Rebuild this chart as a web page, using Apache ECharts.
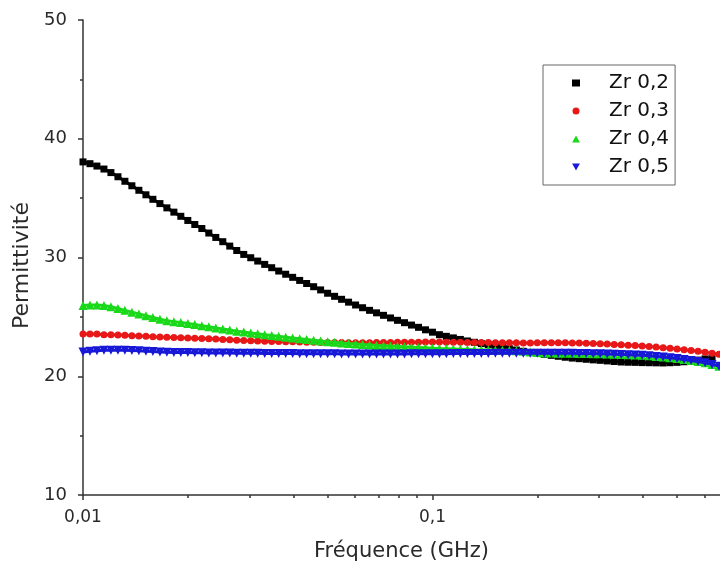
<!DOCTYPE html>
<html>
<head>
<meta charset="utf-8">
<script src="https://cdn.jsdelivr.net/npm/echarts@6/dist/echarts.min.js"></script>
<style>
html,body{margin:0;padding:0;background:#fff;}
#c{width:720px;height:569px;}
</style>
</head>
<body>
<div id="c"></div>
<script>
// Frequency (GHz)
const freq = [
0.01, 0.01047, 0.01096, 0.01148, 0.01202, 0.01259, 0.01318, 0.0138, 0.01445, 0.01514,
0.01585, 0.0166, 0.01738, 0.0182, 0.01905, 0.01995, 0.02089, 0.02188, 0.02291, 0.02399,
0.02512, 0.0263, 0.02754, 0.02884, 0.0302, 0.03162, 0.03311, 0.03467, 0.03631, 0.03802,
0.03981, 0.04169, 0.04365, 0.04571, 0.04786, 0.05012, 0.05248, 0.05495, 0.05754, 0.06026,
0.0631, 0.06607, 0.06918, 0.07244, 0.07586, 0.07943, 0.08318, 0.0871, 0.0912, 0.0955,
0.1, 0.1047, 0.1096, 0.1148, 0.1202, 0.1259, 0.1318, 0.138, 0.1445, 0.1514,
0.1585, 0.166, 0.1738, 0.182, 0.1905, 0.1995, 0.2089, 0.2188, 0.2291, 0.2399,
0.2512, 0.263, 0.2754, 0.2884, 0.302, 0.3162, 0.3311, 0.3467, 0.3631, 0.3802,
0.3981, 0.4169, 0.4365, 0.4571, 0.4786, 0.5012, 0.5248, 0.5495, 0.5754, 0.6026,
0.631, 0.6607
];
// Permittivité values
const zr02 = [
38.05, 37.9, 37.7, 37.45, 37.15, 36.8, 36.42, 36.04, 35.66, 35.28,
34.9, 34.54, 34.18, 33.82, 33.47, 33.12, 32.78, 32.44, 32.06, 31.69,
31.33, 30.96, 30.59, 30.26, 29.98, 29.7, 29.42, 29.14, 28.86, 28.59,
28.33, 28.07, 27.81, 27.54, 27.27, 26.99, 26.73, 26.48, 26.24, 26.0,
25.77, 25.55, 25.34, 25.13, 24.91, 24.71, 24.51, 24.31, 24.12, 23.91,
23.71, 23.5, 23.36, 23.23, 23.1, 22.97, 22.86, 22.75, 22.65, 22.54,
22.43, 22.32, 22.21, 22.1, 22.0, 21.92, 21.84, 21.76, 21.68, 21.6,
21.53, 21.48, 21.43, 21.38, 21.34, 21.29, 21.24, 21.2, 21.18, 21.17,
21.15, 21.14, 21.13, 21.12, 21.14, 21.17, 21.22, 21.28, 21.36, 21.46,
21.54, null
];
const zr03 = [
23.55, 23.55, 23.55, 23.5, 23.5, 23.48, 23.45, 23.42, 23.4, 23.37,
23.33, 23.3, 23.28, 23.26, 23.24, 23.22, 23.2, 23.18, 23.16, 23.13,
23.1, 23.07, 23.04, 23.01, 22.99, 22.97, 22.95, 22.93, 22.92, 22.91,
22.9, 22.88, 22.87, 22.86, 22.85, 22.85, 22.84, 22.84, 22.83, 22.83,
22.83, 22.83, 22.84, 22.84, 22.85, 22.86, 22.86, 22.87, 22.87, 22.88,
22.88, 22.88, 22.87, 22.87, 22.86, 22.85, 22.85, 22.84, 22.84, 22.83,
22.83, 22.82, 22.82, 22.81, 22.81, 22.82, 22.82, 22.83, 22.83, 22.82,
22.81, 22.8, 22.78, 22.76, 22.74, 22.71, 22.68, 22.65, 22.62, 22.58,
22.54, 22.5, 22.46, 22.41, 22.36, 22.3, 22.24, 22.17, 22.1, 22.02,
21.94, 21.85
];
const zr04 = [
25.95, 26.0, 26.0, 25.95, 25.85, 25.7, 25.55, 25.4, 25.25, 25.1,
24.95, 24.8, 24.68, 24.6, 24.52, 24.44, 24.35, 24.26, 24.17, 24.07,
23.98, 23.9, 23.8, 23.72, 23.64, 23.57, 23.5, 23.43, 23.36, 23.29,
23.22, 23.16, 23.1, 23.03, 22.97, 22.91, 22.86, 22.81, 22.76, 22.72,
22.68, 22.64, 22.6, 22.57, 22.54, 22.51, 22.48, 22.45, 22.42, 22.39,
22.36, 22.33, 22.31, 22.29, 22.27, 22.25, 22.23, 22.22, 22.21, 22.2,
22.19, 22.18, 22.15, 22.1, 22.05, 22.0, 21.96, 21.95, 21.94, 21.93,
21.93, 21.92, 21.91, 21.9, 21.89, 21.88, 21.86, 21.84, 21.82, 21.79,
21.76, 21.72, 21.67, 21.62, 21.56, 21.49, 21.41, 21.33, 21.24, 21.14,
21.0, 20.85
];
const zr05 = [
22.05, 22.1, 22.15, 22.18, 22.2, 22.2, 22.19, 22.17, 22.14, 22.11,
22.08, 22.05, 22.03, 22.01, 22.0, 21.99, 21.98, 21.97, 21.96, 21.96,
21.95, 21.95, 21.94, 21.94, 21.93, 21.93, 21.92, 21.92, 21.92, 21.91,
21.91, 21.9, 21.9, 21.9, 21.89, 21.89, 21.89, 21.88, 21.88, 21.88,
21.88, 21.88, 21.88, 21.88, 21.88, 21.88, 21.88, 21.89, 21.89, 21.89,
21.9, 21.9, 21.9, 21.91, 21.91, 21.91, 21.92, 21.92, 21.92, 21.93,
21.93, 21.93, 21.93, 21.94, 21.94, 21.94, 21.94, 21.94, 21.94, 21.93,
21.93, 21.92, 21.91, 21.9, 21.89, 21.88, 21.86, 21.84, 21.82, 21.79,
21.76, 21.72, 21.67, 21.62, 21.56, 21.49, 21.41, 21.33, 21.24, 21.14,
21.0, 20.85
];
const seriesNames = ['Zr 0,2', 'Zr 0,3', 'Zr 0,4', 'Zr 0,5'];
const xMajorTicks = [0.01, 0.1];
const xMinorTicks = [0.02, 0.03, 0.04, 0.05, 0.06, 0.07, 0.08, 0.09, 0.2, 0.3, 0.4, 0.5, 0.6];

const colors = ['#000000', '#e81818', '#1ad81a', '#1818d8'];
const downTri = 'path://M0,0L10,0L5,9Z';
const upTri = 'path://M5,0L10,9L0,9Z';
const symbols = ['rect', 'circle', upTri, downTri];
const sizes = [7, 7, 9, 9];
const allVals = [zr02, zr03, zr04, zr05];

function pairs(vals) {
  const out = [];
  for (let i = 0; i < freq.length; i++) {
    if (vals[i] !== null && vals[i] !== undefined) out.push([freq[i], vals[i]]);
  }
  return out;
}

const font = '"DejaVu Sans", "Liberation Sans", Arial, sans-serif';
const txt = '#2a2a2a';
const chart = echarts.init(document.getElementById('c'), null, {renderer: 'canvas'});
chart.setOption({
  animation: false,
  backgroundColor: '#ffffff',
  grid: {left: 83, right: 0, top: 20, bottom: 74, containLabel: false, outerBoundsMode: 'none'},
  legend: {
    orient: 'vertical',
    left: 543, top: 65,
    padding: [7, 6, 7, 29],
    itemWidth: 8, itemHeight: 7, itemGap: 6,
    symbolKeepAspect: true,
    borderColor: '#666', borderWidth: 1,
    textStyle: {fontSize: 20, color: '#111', fontFamily: font, lineHeight: 22, padding: [0, 0, 0, 24]},
    data: seriesNames.map((n, i) => ({name: n, icon: symbols[i]}))
  },
  xAxis: [{
    type: 'log', logBase: 10, min: 0.01, max: 0.665,
    position: 'bottom',
    axisLine: {show: true, lineStyle: {color: '#333', width: 1.5}},
    axisTick: {show: true, inside: false, length: 5, customValues: xMajorTicks, lineStyle: {color: '#333', width: 1.5}},
    minorTick: {show: false},
    axisLabel: {customValues: xMajorTicks, fontSize: 17, color: txt, fontFamily: font, margin: 14,
      formatter: v => String(+v.toPrecision(6)).replace('.', ',')},
    splitLine: {show: false},
    name: 'Fréquence (GHz)', nameLocation: 'middle', nameGap: 46,
    nameTextStyle: {fontSize: 21, color: txt, fontFamily: font}
  }, {
    type: 'log', logBase: 10, min: 0.01, max: 0.665,
    position: 'bottom',
    axisLine: {show: false},
    axisTick: {show: true, inside: false, length: 3, customValues: xMinorTicks, lineStyle: {color: '#333', width: 1.5}},
    axisLabel: {show: false, customValues: []},
    splitLine: {show: false}
  }],
  yAxis: {
    type: 'value', min: 10, max: 50, interval: 10,
    axisLine: {show: true, lineStyle: {color: '#333', width: 1.5}},
    axisTick: {show: true, inside: false, length: 5, lineStyle: {color: '#333', width: 1.5}},
    minorTick: {show: true, splitNumber: 2, length: 3, lineStyle: {color: '#333', width: 1.5}},
    axisLabel: {fontSize: 18, color: txt, fontFamily: font, margin: 16},
    splitLine: {show: false},
    name: 'Permittivité', nameLocation: 'middle', nameGap: 50, nameRotate: 90,
    nameTextStyle: {fontSize: 22, color: txt, fontFamily: font, padding: [0, 16, 0, 0]}
  },
  series: allVals.map((vals, i) => ({
    name: seriesNames[i],
    type: 'line',
    xAxisIndex: 0,
    data: pairs(vals),
    symbol: symbols[i],
    symbolSize: sizes[i],
    showSymbol: true,
    showAllSymbol: true,
    lineStyle: {color: colors[i], width: 3},
    itemStyle: {color: colors[i], borderWidth: 0},
    emphasis: {disabled: true},
    z: 2 + i
  }))
});
</script>
</body>
</html>
